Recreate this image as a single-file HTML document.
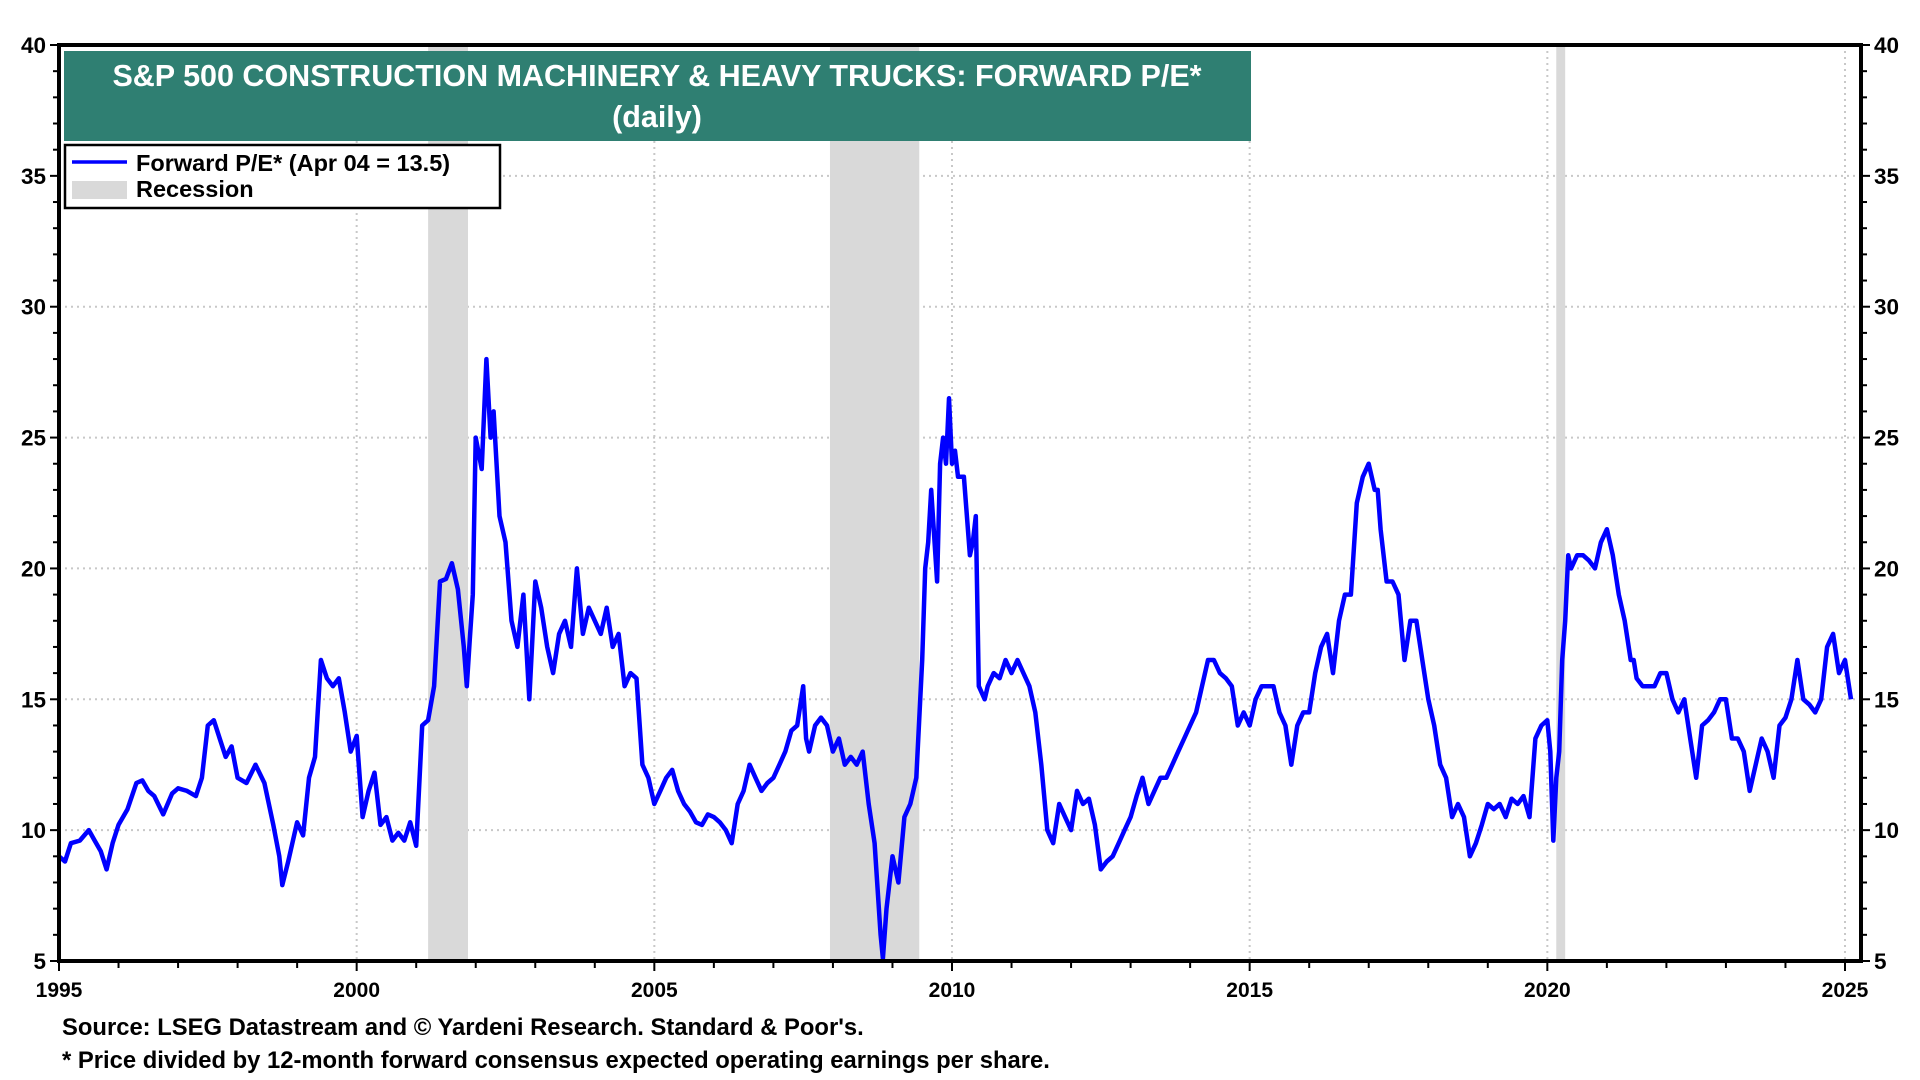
<!DOCTYPE html>
<html><head><meta charset="utf-8"><style>
html,body{margin:0;padding:0;background:#fff;}
svg{display:block;font-family:"Liberation Sans",Arial,sans-serif;font-weight:bold;}
</style></head><body>
<svg id="chart" width="1920" height="1080" viewBox="0 0 1920 1080" xmlns="http://www.w3.org/2000/svg">
<g id="grid"></g>
<g id="rec"></g>
<g id="series"></g>
<g id="axes"></g>
<rect x="64" y="51" width="1187" height="90" fill="#2f7f72"/>
<text x="657" y="86" fill="#fff" font-size="30.5" text-anchor="middle">S&amp;P 500 CONSTRUCTION MACHINERY &amp; HEAVY TRUCKS: FORWARD P/E*</text>
<text x="657" y="127" fill="#fff" font-size="30.5" text-anchor="middle">(daily)</text>
<g>
<rect x="65" y="145" width="435" height="63" fill="#fff" stroke="#000" stroke-width="2.5"/>
<line x1="72" y1="162" x2="127" y2="162" stroke="#0000ff" stroke-width="3.5"/>
<text x="136" y="171" font-size="23.5">Forward P/E* (Apr 04 = 13.5)</text>
<rect x="72" y="181" width="55" height="18" fill="#d9d9d9"/>
<text x="136" y="197" font-size="23.5">Recession</text>
</g>
<text x="62" y="1035" font-size="23.8">Source: LSEG Datastream and © Yardeni Research. Standard &amp; Poor's.</text>
<text x="62" y="1068" font-size="23.8">* Price divided by 12-month forward consensus expected operating earnings per share.</text>
</svg>
<script>
const years=[1995.0,1995.1,1995.2,1995.35,1995.5,1995.6,1995.7,1995.8,1995.9,1996.0,1996.15,1996.3,1996.4,1996.5,1996.6,1996.75,1996.9,1997.0,1997.15,1997.3,1997.4,1997.5,1997.6,1997.7,1997.8,1997.9,1998.0,1998.15,1998.3,1998.45,1998.6,1998.7,1998.75,1998.85,1999.0,1999.1,1999.2,1999.3,1999.4,1999.5,1999.6,1999.7,1999.8,1999.9,2000.0,2000.1,2000.2,2000.3,2000.4,2000.5,2000.6,2000.7,2000.8,2000.9,2001.0,2001.1,2001.2,2001.3,2001.4,2001.5,2001.6,2001.7,2001.8,2001.85,2001.9,2001.95,2002.0,2002.1,2002.18,2002.25,2002.3,2002.4,2002.5,2002.6,2002.7,2002.8,2002.9,2003.0,2003.1,2003.2,2003.3,2003.4,2003.5,2003.6,2003.7,2003.8,2003.9,2004.0,2004.1,2004.2,2004.3,2004.4,2004.5,2004.6,2004.7,2004.8,2004.9,2005.0,2005.1,2005.2,2005.3,2005.4,2005.5,2005.6,2005.7,2005.8,2005.9,2006.0,2006.1,2006.2,2006.3,2006.4,2006.5,2006.6,2006.7,2006.8,2006.9,2007.0,2007.1,2007.2,2007.3,2007.4,2007.5,2007.55,2007.6,2007.7,2007.8,2007.9,2008.0,2008.1,2008.2,2008.3,2008.4,2008.5,2008.6,2008.7,2008.8,2008.84,2008.9,2009.0,2009.1,2009.2,2009.3,2009.4,2009.5,2009.55,2009.6,2009.65,2009.75,2009.8,2009.85,2009.9,2009.95,2010.0,2010.05,2010.1,2010.2,2010.3,2010.35,2010.4,2010.45,2010.55,2010.6,2010.7,2010.8,2010.9,2011.0,2011.1,2011.2,2011.3,2011.4,2011.5,2011.6,2011.7,2011.8,2011.9,2012.0,2012.1,2012.2,2012.3,2012.4,2012.5,2012.6,2012.7,2012.8,2012.9,2013.0,2013.1,2013.2,2013.3,2013.4,2013.5,2013.6,2013.7,2013.8,2013.9,2014.0,2014.1,2014.2,2014.3,2014.4,2014.5,2014.6,2014.7,2014.8,2014.9,2015.0,2015.1,2015.2,2015.3,2015.4,2015.5,2015.6,2015.7,2015.8,2015.9,2016.0,2016.1,2016.2,2016.3,2016.4,2016.5,2016.6,2016.7,2016.8,2016.9,2017.0,2017.1,2017.15,2017.2,2017.3,2017.4,2017.5,2017.6,2017.7,2017.8,2017.9,2018.0,2018.1,2018.2,2018.3,2018.4,2018.5,2018.6,2018.7,2018.8,2018.9,2019.0,2019.1,2019.2,2019.3,2019.4,2019.5,2019.6,2019.7,2019.8,2019.9,2020.0,2020.05,2020.1,2020.15,2020.2,2020.25,2020.3,2020.35,2020.4,2020.5,2020.6,2020.7,2020.8,2020.9,2021.0,2021.1,2021.2,2021.3,2021.4,2021.45,2021.5,2021.6,2021.7,2021.8,2021.9,2022.0,2022.1,2022.2,2022.3,2022.4,2022.5,2022.6,2022.7,2022.8,2022.9,2023.0,2023.1,2023.2,2023.3,2023.4,2023.5,2023.6,2023.7,2023.8,2023.9,2024.0,2024.1,2024.2,2024.3,2024.4,2024.5,2024.6,2024.7,2024.8,2024.9,2025.0,2025.1,2025.2,2025.26];
const pe=[9.0,8.8,9.5,9.6,10.0,9.6,9.2,8.5,9.5,10.2,10.8,11.8,11.9,11.5,11.3,10.6,11.4,11.6,11.5,11.3,12.0,14.0,14.2,13.5,12.8,13.2,12.0,11.8,12.5,11.8,10.2,9.0,7.9,8.8,10.3,9.8,12.0,12.8,16.5,15.8,15.5,15.8,14.5,13.0,13.6,10.5,11.5,12.2,10.2,10.5,9.6,9.9,9.6,10.3,9.4,14.0,14.2,15.5,19.5,19.6,20.2,19.2,17.0,15.5,17.3,19.0,25.0,23.8,28.0,25.0,26.0,22.0,21.0,18.0,17.0,19.0,15.0,19.5,18.5,17.0,16.0,17.5,18.0,17.0,20.0,17.5,18.5,18.0,17.5,18.5,17.0,17.5,15.5,16.0,15.8,12.5,12.0,11.0,11.5,12.0,12.3,11.5,11.0,10.7,10.3,10.2,10.6,10.5,10.3,10.0,9.5,11.0,11.5,12.5,12.0,11.5,11.8,12.0,12.5,13.0,13.8,14.0,15.5,13.5,13.0,14.0,14.3,14.0,13.0,13.5,12.5,12.8,12.5,13.0,11.0,9.5,6.0,5.1,7.0,9.0,8.0,10.5,11.0,12.0,16.5,20.0,21.0,23.0,19.5,24.0,25.0,24.0,26.5,24.0,24.5,23.5,23.5,20.5,21.0,22.0,15.5,15.0,15.5,16.0,15.8,16.5,16.0,16.5,16.0,15.5,14.5,12.5,10.0,9.5,11.0,10.5,10.0,11.5,11.0,11.2,10.2,8.5,8.8,9.0,9.5,10.0,10.5,11.3,12.0,11.0,11.5,12.0,12.0,12.5,13.0,13.5,14.0,14.5,15.5,16.5,16.5,16.0,15.8,15.5,14.0,14.5,14.0,15.0,15.5,15.5,15.5,14.5,14.0,12.5,14.0,14.5,14.5,16.0,17.0,17.5,16.0,18.0,19.0,19.0,22.5,23.5,24.0,23.0,23.0,21.5,19.5,19.5,19.0,16.5,18.0,18.0,16.5,15.0,14.0,12.5,12.0,10.5,11.0,10.5,9.0,9.5,10.2,11.0,10.8,11.0,10.5,11.2,11.0,11.3,10.5,13.5,14.0,14.2,13.0,9.6,12.0,13.0,16.5,18.0,20.5,20.0,20.5,20.5,20.3,20.0,21.0,21.5,20.5,19.0,18.0,16.5,16.5,15.8,15.5,15.5,15.5,16.0,16.0,15.0,14.5,15.0,13.5,12.0,14.0,14.2,14.5,15.0,15.0,13.5,13.5,13.0,11.5,12.5,13.5,13.0,12.0,14.0,14.3,15.0,16.5,15.0,14.8,14.5,15.0,17.0,17.5,16.0,16.5,15.0];
const yTicks=[5,10,15,20,25,30,35,40];
const xTickYears=[1995,2000,2005,2010,2015,2020,2025];
const recStart=[2001.2,2007.95,2020.15];
const recEnd=[2001.87,2009.45,2020.3];

const L=59,R=1861,T=45,B=961,X0=1995,X1=2025.27,Y0=5,Y1=40;
const xPerYear=(1845-59)/30;
function xs(v){return L+(v-X0)*xPerYear;}
function ys(v){return B-(v-Y0)*(B-T)/(Y1-Y0);}
const NS="http://www.w3.org/2000/svg";
function mk(tag,parent,attrs){const e=document.createElementNS(NS,tag);for(const k in attrs)e.setAttribute(k,attrs[k]);parent.appendChild(e);return e;}
const grid=document.getElementById('grid'),rec=document.getElementById('rec'),ser=document.getElementById('series'),ax=document.getElementById('axes');

yTicks.forEach(v=>{
  if(v>Y0&&v<Y1){
    const g=mk('line',grid,{x1:L,x2:R,y1:ys(v),y2:ys(v),stroke:'#c8c8c8','stroke-width':2,'stroke-dasharray':'2,4'});
    
    
  }
});
xTickYears.forEach(v=>{
  if(v>X0){
    const g=mk('line',grid,{x1:xs(v),x2:xs(v),y1:T,y2:B,stroke:'#c8c8c8','stroke-width':2,'stroke-dasharray':'2,4'});
    
    
  }
});
recStart.forEach((s,i)=>{
  const r=mk('rect',rec,{x:xs(s),y:T,width:xs(recEnd[i])-xs(s),height:B-T,fill:'#d9d9d9'});
  
  
});
let d='';
years.forEach((y,i)=>{d+=(i?'L':'M')+xs(y).toFixed(1)+','+ys(pe[i]).toFixed(1);});
const p=mk('path',ser,{d:d,fill:'none',stroke:'#0000ff','stroke-width':4.5,'stroke-linejoin':'round'});



const frame=mk('rect',ax,{x:L,y:T,width:R-L,height:B-T,fill:'none',stroke:'#000','stroke-width':4});


for(let v=Y0;v<=Y1;v++){
  const major=v%5===0;const len=major?9:6;
  mk('line',ax,{x1:L-len,x2:L,y1:ys(v),y2:ys(v),stroke:'#000','stroke-width':2});
  mk('line',ax,{x1:R,x2:R+len,y1:ys(v),y2:ys(v),stroke:'#000','stroke-width':2});
}
yTicks.forEach(v=>{
  const a=mk('text',ax,{x:L-13,y:ys(v)+8,'font-size':22.5,'text-anchor':'end'});a.textContent=v;
  
  
  const b=mk('text',ax,{x:R+13,y:ys(v)+8,'font-size':22.5,'text-anchor':'start'});b.textContent=v;
  
  
});
for(let y=X0;y<=2025;y++){
  const major=y%5===0;
  mk('line',ax,{x1:xs(y),x2:xs(y),y1:B,y2:B+(major?10:7),stroke:'#000','stroke-width':2});
}
xTickYears.forEach(v=>{
  const t=mk('text',ax,{x:xs(v),y:B+36,'font-size':21,'text-anchor':'middle'});t.textContent=v;
  
  
});
</script>
</body></html>
